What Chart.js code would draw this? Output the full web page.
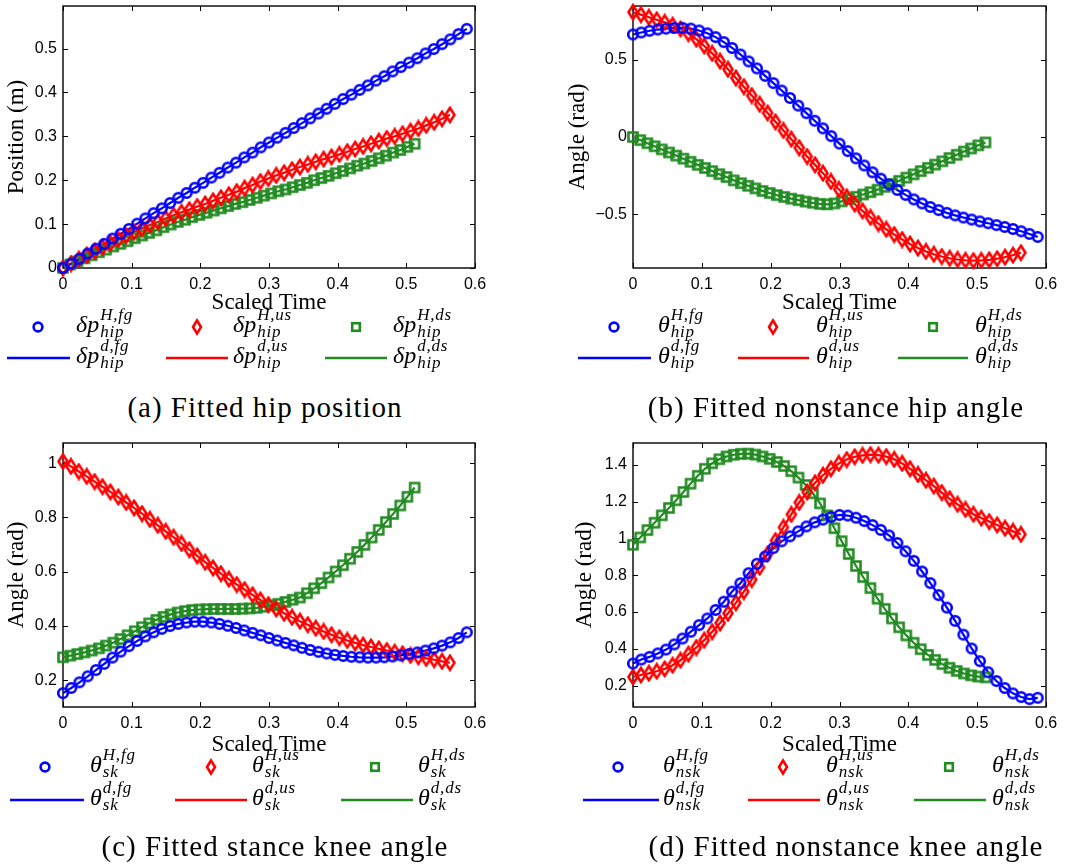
<!DOCTYPE html>
<html>
<head>
<meta charset="utf-8">
<script src="https://cdn.jsdelivr.net/npm/chart.js@4.4.1/dist/chart.umd.min.js"></script>
<style>
  body { margin: 0; background: #fff; width: 1078px; height: 867px; position: relative; overflow: hidden; }
  canvas { position: absolute; }
  .t { position: absolute; line-height: 0; white-space: nowrap; font-family: 'Liberation Serif', serif; color: #000; }
  .it { font-style: italic; }
  svg { position: absolute; overflow: visible; }
</style>
</head>
<body>
<canvas id="pa" width="540" height="320" style="left:0;top:0"></canvas>
<canvas id="pb" width="538" height="320" style="left:540px;top:0"></canvas>
<canvas id="pc" width="540" height="330" style="left:0;top:430px"></canvas>
<canvas id="pd" width="538" height="330" style="left:540px;top:430px"></canvas>
<div id="overlay"></div>
<script>
/* ── Data: scaled time samples of the three gaits ───────────── */
const tFg = [0,0.012,0.024,0.036,0.048,0.06,0.072,0.084,0.096,0.108,0.12,0.132,0.144,0.156,0.168,0.18,0.192,0.204,0.216,0.228,0.24,0.252,0.264,0.276,0.288,0.3,0.312,0.324,0.336,0.348,0.36,0.372,0.384,0.396,0.408,0.42,0.432,0.444,0.456,0.468,0.48,0.492,0.504,0.516,0.528,0.54,0.552,0.564,0.576,0.588];
const tUs = [0,0.0115,0.023,0.0345,0.046,0.0575,0.069,0.0805,0.092,0.1035,0.115,0.1265,0.138,0.1495,0.161,0.1725,0.184,0.1955,0.207,0.2185,0.23,0.2415,0.253,0.2645,0.276,0.2875,0.299,0.3105,0.322,0.3335,0.345,0.3565,0.368,0.3795,0.391,0.4025,0.414,0.4255,0.437,0.4485,0.46,0.4715,0.483,0.4945,0.506,0.5175,0.529,0.5405,0.552,0.5635];
const tDs = [0,0.0105,0.0209,0.0314,0.0418,0.0523,0.0627,0.0732,0.0836,0.0941,0.1045,0.115,0.1254,0.1359,0.1463,0.1568,0.1672,0.1777,0.1881,0.1986,0.209,0.2195,0.2299,0.2404,0.2508,0.2613,0.2717,0.2822,0.2926,0.3031,0.3135,0.324,0.3344,0.3449,0.3553,0.3658,0.3762,0.3867,0.3971,0.4076,0.418,0.4285,0.4389,0.4494,0.4598,0.4703,0.4807,0.4912,0.5016,0.5121];

/* (a) hip position (m) */
const hipPosFg = [0,0.010,0.021,0.033,0.044,0.055,0.067,0.078,0.089,0.101,0.113,0.125,0.136,0.148,0.160,0.171,0.183,0.194,0.206,0.217,0.229,0.240,0.252,0.263,0.275,0.286,0.297,0.308,0.319,0.330,0.341,0.352,0.363,0.374,0.385,0.395,0.406,0.416,0.427,0.437,0.448,0.458,0.468,0.478,0.489,0.499,0.510,0.521,0.533,0.545];
const hipPosUs = [0,0.010,0.020,0.029,0.038,0.047,0.056,0.065,0.074,0.082,0.090,0.098,0.105,0.113,0.120,0.127,0.133,0.140,0.146,0.153,0.160,0.167,0.174,0.182,0.189,0.197,0.204,0.211,0.217,0.224,0.230,0.236,0.242,0.248,0.253,0.259,0.265,0.271,0.277,0.283,0.289,0.295,0.300,0.306,0.312,0.318,0.325,0.332,0.340,0.349];
const hipPosDs = [0,0.008,0.015,0.022,0.029,0.036,0.042,0.049,0.055,0.061,0.068,0.074,0.080,0.086,0.093,0.099,0.105,0.110,0.116,0.121,0.126,0.131,0.136,0.141,0.146,0.150,0.155,0.160,0.165,0.170,0.175,0.179,0.184,0.189,0.194,0.200,0.205,0.210,0.216,0.221,0.227,0.233,0.238,0.244,0.250,0.256,0.263,0.269,0.276,0.283];

/* (b) nonstance hip angle (rad) */
const hipAngFg = [0.662,0.675,0.686,0.694,0.700,0.704,0.705,0.700,0.688,0.670,0.645,0.613,0.575,0.533,0.488,0.443,0.395,0.348,0.300,0.252,0.203,0.154,0.105,0.056,0.006,-0.043,-0.091,-0.138,-0.184,-0.228,-0.269,-0.307,-0.342,-0.374,-0.403,-0.429,-0.452,-0.472,-0.490,-0.506,-0.520,-0.533,-0.545,-0.557,-0.569,-0.581,-0.594,-0.609,-0.626,-0.645];
const hipAngUs = [0.806,0.790,0.773,0.757,0.741,0.722,0.698,0.668,0.632,0.588,0.540,0.490,0.437,0.381,0.325,0.268,0.212,0.155,0.098,0.042,-0.014,-0.070,-0.126,-0.180,-0.234,-0.287,-0.338,-0.387,-0.433,-0.477,-0.519,-0.559,-0.596,-0.630,-0.662,-0.691,-0.717,-0.739,-0.757,-0.772,-0.783,-0.791,-0.796,-0.798,-0.797,-0.793,-0.786,-0.776,-0.763,-0.747];
const hipAngDs = [0,-0.020,-0.040,-0.060,-0.080,-0.100,-0.120,-0.140,-0.160,-0.180,-0.200,-0.220,-0.240,-0.258,-0.280,-0.298,-0.315,-0.332,-0.348,-0.362,-0.375,-0.387,-0.398,-0.408,-0.417,-0.425,-0.432,-0.435,-0.429,-0.416,-0.401,-0.386,-0.371,-0.356,-0.340,-0.322,-0.303,-0.283,-0.262,-0.241,-0.220,-0.199,-0.178,-0.157,-0.136,-0.115,-0.094,-0.074,-0.054,-0.035];

/* (c) stance knee angle (rad) */
const skFg = [0.153,0.172,0.193,0.215,0.238,0.261,0.284,0.306,0.326,0.345,0.362,0.377,0.390,0.400,0.408,0.413,0.416,0.416,0.413,0.408,0.401,0.393,0.384,0.375,0.366,0.356,0.347,0.338,0.329,0.320,0.312,0.305,0.299,0.294,0.290,0.287,0.285,0.284,0.284,0.285,0.288,0.292,0.297,0.303,0.310,0.318,0.328,0.340,0.356,0.377];
const skUs = [1.006,0.988,0.969,0.951,0.932,0.913,0.894,0.875,0.855,0.835,0.814,0.793,0.771,0.749,0.727,0.704,0.681,0.658,0.635,0.614,0.593,0.573,0.553,0.534,0.515,0.496,0.479,0.463,0.447,0.432,0.418,0.405,0.392,0.380,0.368,0.357,0.347,0.338,0.330,0.323,0.316,0.310,0.304,0.298,0.292,0.287,0.281,0.276,0.270,0.265];
const skDs = [0.285,0.291,0.297,0.303,0.310,0.318,0.328,0.339,0.352,0.366,0.381,0.396,0.410,0.423,0.434,0.443,0.450,0.455,0.459,0.461,0.462,0.463,0.463,0.463,0.463,0.464,0.465,0.467,0.471,0.476,0.482,0.489,0.497,0.505,0.521,0.539,0.558,0.579,0.601,0.624,0.648,0.673,0.699,0.726,0.754,0.783,0.813,0.844,0.876,0.910];

/* (d) nonstance knee angle (rad) */
const nskFg = [0.320,0.342,0.356,0.375,0.396,0.424,0.456,0.493,0.529,0.565,0.611,0.656,0.711,0.756,0.811,0.862,0.902,0.947,0.984,1.011,1.038,1.065,1.087,1.102,1.116,1.127,1.124,1.112,1.094,1.072,1.046,1.016,0.975,0.930,0.878,0.820,0.757,0.692,0.624,0.552,0.477,0.402,0.333,0.273,0.225,0.187,0.158,0.138,0.127,0.134];
const nskUs = [0.247,0.258,0.267,0.278,0.291,0.311,0.338,0.371,0.407,0.447,0.493,0.540,0.593,0.650,0.711,0.776,0.843,0.915,0.988,1.060,1.130,1.195,1.252,1.302,1.343,1.378,1.407,1.428,1.443,1.451,1.455,1.452,1.444,1.429,1.407,1.378,1.347,1.316,1.284,1.249,1.215,1.185,1.157,1.131,1.110,1.091,1.073,1.055,1.038,1.022];
const nskDs = [0.965,1.005,1.045,1.085,1.125,1.165,1.207,1.252,1.297,1.340,1.378,1.408,1.430,1.445,1.454,1.459,1.460,1.455,1.445,1.432,1.415,1.393,1.365,1.330,1.290,1.245,1.190,1.125,1.055,0.985,0.915,0.850,0.790,0.730,0.672,0.617,0.565,0.517,0.473,0.433,0.398,0.367,0.340,0.317,0.297,0.280,0.266,0.256,0.249,0.245];

/* ── Tick labels ────────────────────────────────────────────── */
const xTicks   = [0, 0.1, 0.2, 0.3, 0.4, 0.5, 0.6];
const posTicks = [0, 0.1, 0.2, 0.3, 0.4, 0.5];
const hipTicks = [-0.5, 0, 0.5];
const skTicks  = [0.2, 0.4, 0.6, 0.8, 1];
const nskTicks = [0.2, 0.4, 0.6, 0.8, 1, 1.2, 1.4];

const gaits   = ['fg', 'us', 'ds'];
const times   = [tFg, tUs, tDs];
const colors  = ['#0000ff', '#ff0000', '#228b22'];
const markers = ['circle', 'diamond', 'square'];

/* ── Panel layout ───────────────────────────────────────────── */
const panels = [
  { id: 'pa', padTop: 4,  padRight: 65, yW: 63, xH: 52, xtPad: 5.5, ytPad: 5.5,
    yMin: 0, yMax: 0.597, yTicks: posTicks, yTitle: 'Position (m)', series: [hipPosFg, hipPosUs, hipPosDs],
    sym: 'δp', sub: 'hip', mk: [38, 197, 356], lab: [76, 233, 393], ln: [[7, 70], [166, 228], [325, 387]], rows: [327, 358],
    caption: '(a) Fitted hip position', capX: 265, capY: 417 },
  { id: 'pb', padTop: 4,  padRight: 32, yW: 93, xH: 52, xtPad: 5.5, ytPad: 26.5,
    yMin: -0.846, yMax: 0.846, yTicks: hipTicks, yTitle: 'Angle (rad)', series: [hipAngFg, hipAngUs, hipAngDs],
    sym: 'θ', sub: 'hip', mk: [614, 773, 933], lab: [658, 816, 975], ln: [[578, 651], [738, 809], [898, 968]], rows: [327, 358],
    caption: '(b) Fitted nonstance hip angle', capX: 836, capY: 417 },
  { id: 'pc', padTop: 13, padRight: 65, yW: 63, xH: 53, xtPad: 3.5, ytPad: 5.5,
    yMin: 0.102, yMax: 1.074, yTicks: skTicks, yTitle: 'Angle (rad)', series: [skFg, skUs, skDs],
    sym: 'θ', sub: 'sk', mk: [45, 211, 375], lab: [90, 252, 418], ln: [[10, 84], [175, 247], [341, 413]], rows: [767, 800],
    caption: '(c) Fitted stance knee angle', capX: 275, capY: 856 },
  { id: 'pd', padTop: 13, padRight: 32, yW: 93, xH: 53, xtPad: 3.5, ytPad: 33.5,
    yMin: 0.084, yMax: 1.518, yTicks: nskTicks, yTitle: 'Angle (rad)', series: [nskFg, nskUs, nskDs],
    sym: 'θ', sub: 'nsk', mk: [618, 783, 949], lab: [663, 826, 992], ln: [[583, 659], [748, 820], [914, 986]], rows: [767, 800],
    caption: '(d) Fitted nonstance knee angle', capX: 846, capY: 856 }
];

const TICK = 5;
const tickFont  = { family: "'Liberation Sans', Arial, sans-serif", size: 16 };
const titleFont = { family: "'Liberation Serif', serif", size: 23, lineHeight: 1 };

function fmt(v) {
  const r = Math.round(Math.abs(v) * 10) / 10;
  return (v < 0 ? '\u2212' : '') + String(r);
}

/* ── Marker images (MATLAB-like open symbols) ───────────────── */
function markerImage(kind, color) {
  const c = document.createElement('canvas');
  const w = kind === 'diamond' ? 14 : 14, h = kind === 'diamond' ? 18 : 14;
  c.width = w; c.height = h;
  const g = c.getContext('2d');
  g.strokeStyle = color; g.lineWidth = 2.6;
  g.beginPath();
  if (kind === 'circle') g.arc(w / 2, h / 2, 4.8, 0, Math.PI * 2);
  else if (kind === 'diamond') { g.moveTo(w / 2, 2); g.lineTo(w / 2 + 4.5, h / 2); g.lineTo(w / 2, h - 2); g.lineTo(w / 2 - 4.5, h / 2); g.closePath(); }
  else g.rect(2.5, 2.5, 9, 9);
  g.stroke();
  return c;
}

/* ── Axes box + inward ticks on all four sides ──────────────── */
const boxPlugin = {
  id: 'matlabBox',
  beforeDatasetsDraw(chart) {
    const { ctx, chartArea: a, scales: { x, y } } = chart;
    ctx.save();
    ctx.strokeStyle = '#000';
    ctx.lineWidth = 1;
    ctx.beginPath();
    x.ticks.forEach(t => {
      const px = Math.round(x.getPixelForValue(t.value)) + 0.5;
      ctx.moveTo(px, a.bottom); ctx.lineTo(px, a.bottom - TICK);
      ctx.moveTo(px, a.top);    ctx.lineTo(px, a.top + TICK);
    });
    y.ticks.forEach(t => {
      const py = Math.round(y.getPixelForValue(t.value)) + 0.5;
      ctx.moveTo(a.left, py);  ctx.lineTo(a.left + TICK, py);
      ctx.moveTo(a.right, py); ctx.lineTo(a.right - TICK, py);
    });
    ctx.stroke();
    ctx.lineWidth = 1.4;
    ctx.strokeRect(a.left, a.top, a.right - a.left, a.bottom - a.top);
    ctx.restore();
  }
};

function makeChart(p) {
  const datasets = [];
  p.series.forEach((vals, k) => {
    const pts = times[k].map((t, i) => ({ x: t, y: vals[i] }));
    datasets.push({ data: pts, showLine: true, borderColor: colors[k], borderWidth: 2.2, pointRadius: 0, clip: false, order: 2 });
    datasets.push({ data: pts, showLine: false, pointStyle: markerImage(markers[k], colors[k]), pointRadius: 5, clip: false, order: 1 });
  });

  new Chart(document.getElementById(p.id), {
    type: 'scatter',
    data: { datasets },
    options: {
      responsive: false, animation: false, devicePixelRatio: 1,
      layout: { padding: { top: p.padTop, right: p.padRight, left: 0, bottom: 0 } },
      plugins: { legend: { display: false }, tooltip: { enabled: false } },
      scales: {
        x: {
          type: 'linear', min: 0, max: 0.6,
          grid: { display: false, drawTicks: false }, border: { display: false },
          afterBuildTicks: s => { s.ticks = xTicks.map(v => ({ value: v })); },
          afterFit: s => { s.height = p.xH; s.paddingLeft = 0; s.paddingRight = 0; },
          ticks: { font: tickFont, color: '#000', padding: 7, maxRotation: 0, autoSkip: false, callback: fmt },
          title: { display: true, text: 'Scaled Time', font: titleFont, color: '#000', padding: { top: 0, bottom: p.xtPad } }
        },
        y: {
          type: 'linear', min: p.yMin, max: p.yMax,
          grid: { display: false, drawTicks: false }, border: { display: false },
          afterBuildTicks: s => { s.ticks = p.yTicks.map(v => ({ value: v })); },
          afterFit: s => { s.width = p.yW; s.paddingTop = 0; s.paddingBottom = 0; },
          ticks: { font: tickFont, color: '#000', padding: 6, autoSkip: false, callback: fmt },
          title: { display: true, text: p.yTitle, font: titleFont, color: '#000', padding: { top: p.ytPad, bottom: 0 } }
        }
      }
    },
    plugins: [boxPlugin]
  });
}

/* ── Legend and caption (math labels as HTML text) ──────────── */
const overlay = document.getElementById('overlay');
const measure = document.createElement('canvas').getContext('2d');
const ASC = 0.3375; // baseline offset of a zero line-height box, Liberation Serif

function addText(txt, x, baseline, size, cls, extra) {
  const d = document.createElement('div');
  d.className = 't ' + (cls || '');
  d.style.left = x + 'px';
  d.style.top = (baseline - ASC * size) + 'px';
  d.style.fontSize = size + 'px';
  if (extra) Object.assign(d.style, extra);
  d.textContent = txt;
  overlay.appendChild(d);
  return d;
}

function mathLabel(sym, sup, sub, x, baseline) {
  addText(sym, x, baseline, 24, 'it');
  measure.font = "italic 24px 'Liberation Serif'";
  const w = measure.measureText(sym).width + 1;
  addText(sup, x + w, baseline - 11, 17, 'it', { letterSpacing: '0.8px' });
  addText(sub, x + w, baseline + 6, 17, 'it', { letterSpacing: '0.8px' });
}

function markerSvg(kind, color, cx, cy) {
  let shape;
  if (kind === 'circle') shape = `<circle cx="0" cy="0" r="4.4" />`;
  else if (kind === 'diamond') shape = `<polygon points="0,-6.5 4,0 0,6.5 -4,0" />`;
  else shape = `<rect x="-3.8" y="-3.8" width="7.6" height="7.6" />`;
  overlay.insertAdjacentHTML('beforeend',
    `<svg width="1" height="1" style="left:${cx}px;top:${cy}px"><g fill="none" stroke="${color}" stroke-width="2.6">${shape}</g></svg>`);
}

function lineSvg(color, xa, xb, y) {
  overlay.insertAdjacentHTML('beforeend',
    `<svg width="1" height="1" style="left:0;top:0"><line x1="${xa}" y1="${y}" x2="${xb}" y2="${y}" stroke="${color}" stroke-width="2.6" /></svg>`);
}

function makeLegend(p) {
  gaits.forEach((g, k) => {
    markerSvg(markers[k], colors[k], p.mk[k], p.rows[0]);
    mathLabel(p.sym, 'H,' + g, p.sub, p.lab[k], p.rows[0] + 5);
    lineSvg(colors[k], p.ln[k][0], p.ln[k][1], p.rows[1]);
    mathLabel(p.sym, 'd,' + g, p.sub, p.lab[k], p.rows[1] + 5);
  });
  const c = addText(p.caption, p.capX, p.capY, 29, '', { letterSpacing: '1px' });
  c.style.transform = 'translateX(-50%)';
}

panels.forEach(p => { makeChart(p); makeLegend(p); });
</script>
</body>
</html>
